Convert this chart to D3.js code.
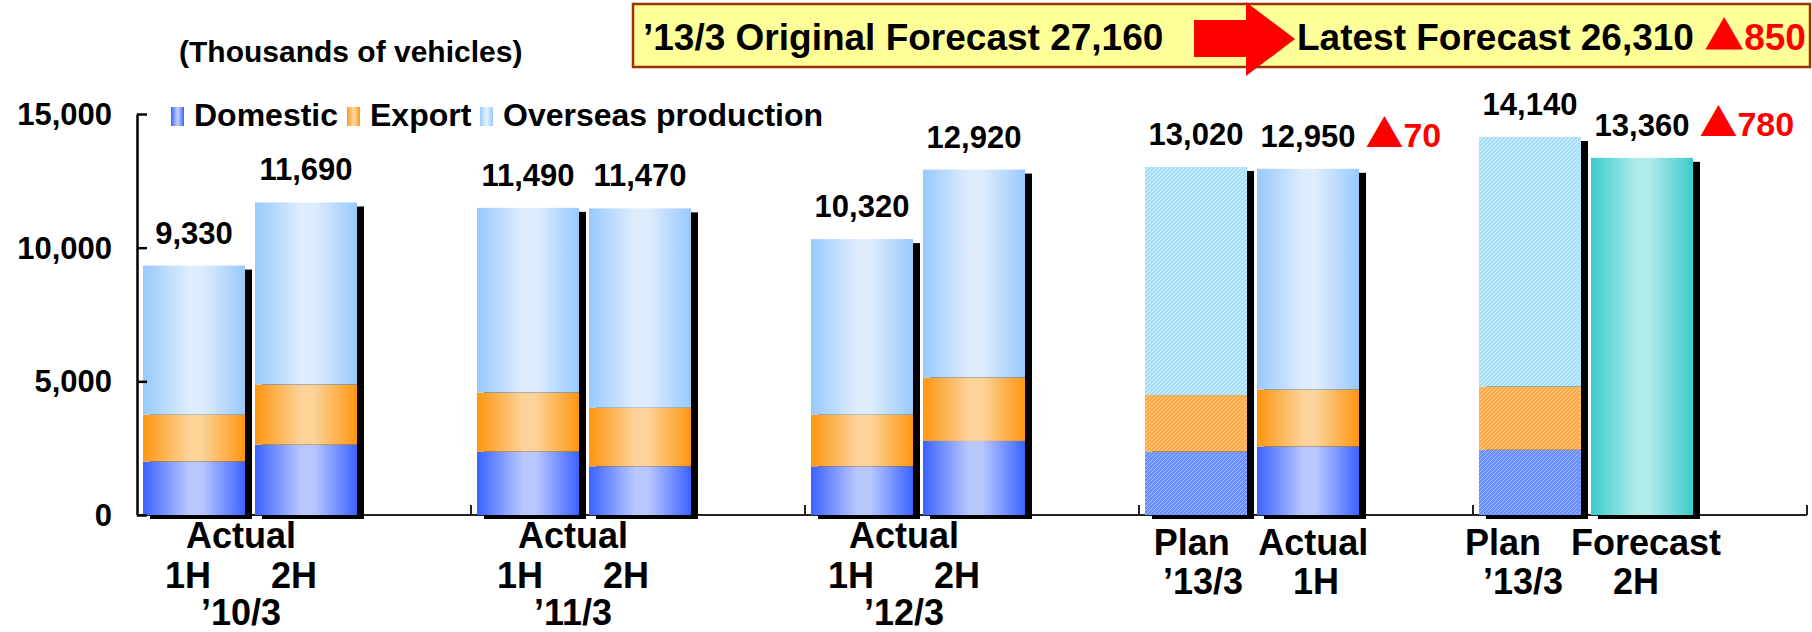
<!DOCTYPE html>
<html>
<head>
<meta charset="utf-8">
<script src="https://cdn.jsdelivr.net/npm/d3@7"></script>
<style>
  body { margin: 0; background: #fff; }
  svg text { font-family: "Liberation Sans", Arial, sans-serif; font-weight: bold; fill: #000; }
</style>
</head>
<body>
<svg id="chart" width="1812" height="632"></svg>
<script>

// categories (5 groups of two bars)
var groups = ["’10/3", "’11/3", "’12/3", "’13/3 1H", "’13/3 2H"];
var barGroup = [0, 0, 1, 1, 2, 2, 3, 3, 4, 4];
var barSlot = [0, 1, 0, 1, 0, 1, 0, 1, 0, 1];
var barKind = ["actual", "actual", "actual", "actual", "actual", "actual", "plan", "actual", "plan", "forecast"];

// thousands of vehicles
var domestic = [2000, 2630, 2370, 1820, 1820, 2770, 2370, 2560, 2440, 0];
var exportVol = [1750, 2250, 2210, 2190, 1930, 2370, 2120, 2130, 2360, 0];
var overseas = [5580, 6810, 6910, 7460, 6570, 7780, 8530, 8260, 9340, 0];
var forecastTotal = [0, 0, 0, 0, 0, 0, 0, 0, 0, 13360];
var totals = [9330, 11690, 11490, 11470, 10320, 12920, 13020, 12950, 14140, 13360];
var decline = ["", "", "", "", "", "", "", "70", "", "780"];

var yTicks = [0, 5000, 10000, 15000];
var seriesNames = ["Domestic", "Export", "Overseas production"];

// x axis text lines
var groupLine1 = ["Actual", "Actual", "Actual", "Plan   Actual", "Plan   Forecast"];
var groupLine2 = ["1H      2H", "1H      2H", "1H      2H", "’13/3     1H", "’13/3     2H"];
var groupLine3 = ["’10/3", "’11/3", "’12/3", "", ""];

// header banner
var originalForecast = 27160;
var latestForecast = 26310;
var latestDecline = 850;

var fmt = d3.format(",");
var svg = d3.select("#chart");
var defs = svg.append("defs");

var y = d3.scaleLinear().domain([0, 15000]).range([515, 114]);
var x = d3.scaleBand().domain(groups).range([137, 1807]).padding(0);
var slot = d3.scaleBand().domain([0, 1]).range([6, 220]).paddingInner(10 / 112).paddingOuter(0);

// gradients for the glossy bars
function addGradient(id, edge, mid) {
    var g = defs.append("linearGradient").attr("id", id)
        .attr("x1", "0").attr("x2", "1").attr("y1", "0").attr("y2", "0");
    g.append("stop").attr("offset", "0").attr("stop-color", edge);
    g.append("stop").attr("offset", "0.45").attr("stop-color", mid);
    g.append("stop").attr("offset", "0.58").attr("stop-color", mid);
    g.append("stop").attr("offset", "1").attr("stop-color", edge);
}
addGradient("gDomestic", "#3b63ff", "#b9c7ff");
addGradient("gExport", "#ff960f", "#fdd39a");
addGradient("gOverseas", "#98c9fc", "#deedfd");
addGradient("gForecast", "#3ccbcb", "#b0ebea");

// hatched fills for the plan bars
function addPattern(id, base, line) {
    var p = defs.append("pattern").attr("id", id)
        .attr("patternUnits", "userSpaceOnUse").attr("width", 4).attr("height", 4);
    p.append("rect").attr("width", 4).attr("height", 4).attr("fill", base);
    p.append("path").attr("d", "M-1,1 L1,-1 M0,4 L4,0 M3,5 L5,3")
        .attr("stroke", line).attr("stroke-width", 1);
}
addPattern("pDomestic", "#6a8fff", "#9fb8ff");
addPattern("pExport", "#ffab48", "#ffcb8c");
addPattern("pOverseas", "#a9def7", "#d2effc");

var keys = ["domestic", "export", "overseas", "forecast"];
var fillActual = { domestic: "url(#gDomestic)", export: "url(#gExport)", overseas: "url(#gOverseas)", forecast: "url(#gForecast)" };
var fillPlan = { domestic: "url(#pDomestic)", export: "url(#pExport)", overseas: "url(#pOverseas)", forecast: "url(#gForecast)" };

var rows = totals.map(function(t, i) {
    return { idx: i, domestic: domestic[i], export: exportVol[i], overseas: overseas[i], forecast: forecastTotal[i] };
});
var stacked = d3.stack().keys(keys)(rows);

function barX(i) { return x(groups[barGroup[i]]) + slot(barSlot[i]); }
var bw = slot.bandwidth();

// x axis line with ticks between categories
svg.append("line")
    .attr("x1", x.range()[0]).attr("x2", x.range()[1])
    .attr("y1", y(0)).attr("y2", y(0))
    .attr("stroke", "#222").attr("stroke-width", 2);
svg.selectAll(".xtick")
    .data(groups)
    .enter().append("line")
    .attr("class", "xtick")
    .attr("x1", function(d) { return x(d) + x.bandwidth(); })
    .attr("x2", function(d) { return x(d) + x.bandwidth(); })
    .attr("y1", y(0)).attr("y2", y(0) - 10)
    .attr("stroke", "#222").attr("stroke-width", 2);

// shadows
svg.selectAll(".shadow")
    .data(totals)
    .enter().append("rect")
    .attr("class", "shadow")
    .attr("x", function(d, i) { return barX(i) + 7; })
    .attr("y", function(d) { return y(d) + 4; })
    .attr("width", bw)
    .attr("height", function(d) { return y(0) - y(d); })
    .attr("fill", "#000");

// stacked bars
stacked.forEach(function(layer) {
    svg.append("g").selectAll("rect")
        .data(layer.filter(function(d) { return d[1] - d[0] > 0; }))
        .enter().append("rect")
        .attr("x", function(d) { return barX(d.data.idx); })
        .attr("y", function(d) { return y(d[1]); })
        .attr("width", bw)
        .attr("height", function(d) { return y(d[0]) - y(d[1]); })
        .attr("fill", function(d) { return barKind[d.data.idx] == "plan" ? fillPlan[layer.key] : fillActual[layer.key]; });
});

// y axis
var yAxis = svg.append("g")
    .attr("transform", "translate(137,0)")
    .call(d3.axisLeft(y).tickValues(yTicks).tickFormat(fmt).tickSizeInner(-10).tickSizeOuter(0).tickPadding(25));
yAxis.select(".domain").attr("stroke", "#000").attr("stroke-width", 2.5);
yAxis.selectAll(".tick line").attr("stroke", "#000").attr("stroke-width", 2.5);
yAxis.selectAll(".tick text")
    .attr("font-size", 31).attr("dy", "0.34em")
    .style("font-family", "'Liberation Sans', Arial, sans-serif").style("font-weight", "bold");

svg.append("text")
    .attr("x", 179).attr("y", 62)
    .attr("font-size", 30)
    .text("(Thousands of vehicles)");

// value labels
var valueLabels = svg.selectAll(".val")
    .data(totals)
    .enter().append("text")
    .attr("class", "val")
    .attr("x", function(d, i) { return barX(i) + bw / 2; })
    .attr("y", function(d) { return y(d) - 22; })
    .attr("text-anchor", "middle")
    .attr("font-size", 31)
    .text(function(d) { return fmt(d); });

valueLabels.each(function(d, i) {
    if (!decline[i]) return;
    var w = this.getComputedTextLength();
    var t = svg.append("text")
        .attr("x", barX(i) + bw / 2 + w / 2 + 10)
        .attr("y", y(d) - 22)
        .attr("font-size", 34)
        .style("fill", "#ff0000");
    t.append("tspan").style("font-family", "'Noto Sans CJK JP', 'DejaVu Sans', sans-serif").style("fill", "#ff0000").attr("font-size", 38).text("▲");
    t.append("tspan").style("fill", "#ff0000").text(decline[i]);
});

// legend
var legendX = [171, 347, 480];
var legendFill = ["url(#gDomestic)", "url(#gExport)", "url(#gOverseas)"];
var legend = svg.selectAll(".legend")
    .data(seriesNames)
    .enter().append("g")
    .attr("class", "legend")
    .attr("transform", function(d, i) { return "translate(" + legendX[i] + ",0)"; });
legend.append("rect")
    .attr("x", 0).attr("y", 107).attr("width", 13).attr("height", 19)
    .attr("fill", function(d, i) { return legendFill[i]; });
legend.append("text")
    .attr("x", 23).attr("y", 126)
    .attr("font-size", 32)
    .text(function(d) { return d; });

// category labels
var shift1 = [-9, -11, -14, 9, 7];
var shift2 = [-9, -11, -14, -1, -15];
var labelG = svg.selectAll(".cat")
    .data(groups)
    .enter().append("g")
    .attr("class", "cat");
labelG.append("text")
    .attr("xml:space", "preserve")
    .attr("x", function(d, i) { return x(d) + 113 + shift1[i]; })
    .attr("y", function(d, i) { return i < 3 ? 548 : 555; })
    .attr("text-anchor", "middle").attr("font-size", 36)
    .text(function(d, i) { return groupLine1[i]; });
labelG.append("text")
    .attr("xml:space", "preserve")
    .attr("x", function(d, i) { return x(d) + 113 + shift2[i]; })
    .attr("y", function(d, i) { return i < 3 ? 588 : 594; })
    .attr("text-anchor", "middle").attr("font-size", 36)
    .text(function(d, i) { return groupLine2[i]; });
labelG.append("text")
    .attr("x", function(d, i) { return x(d) + 113 + shift1[i]; })
    .attr("y", 625)
    .attr("text-anchor", "middle").attr("font-size", 36)
    .text(function(d, i) { return groupLine3[i]; });

// header banner
svg.append("rect")
    .attr("x", 633).attr("y", 4).attr("width", 1177).attr("height", 63)
    .attr("fill", "#ffff99").attr("stroke", "#993300").attr("stroke-width", 2.5);
svg.append("path")
    .attr("d", "M1194,20 L1246,20 L1246,2 L1295,39 L1246,76 L1246,57 L1194,57 Z")
    .attr("fill", "#ff0000");
svg.append("text")
    .attr("x", 643).attr("y", 50)
    .attr("font-size", 37)
    .text("’13/3 Original Forecast " + fmt(originalForecast));
var latest = svg.append("text")
    .attr("x", 1297).attr("y", 50)
    .attr("font-size", 37)
    .attr("xml:space", "preserve");
latest.append("tspan").text("Latest Forecast " + fmt(latestForecast) + " ");
latest.append("tspan").style("font-family", "'Noto Sans CJK JP', 'DejaVu Sans', sans-serif").style("fill", "#ff0000").attr("font-size", 40).text("▲");
latest.append("tspan").style("fill", "#ff0000").text(latestDecline);

</script>
</body>
</html>
